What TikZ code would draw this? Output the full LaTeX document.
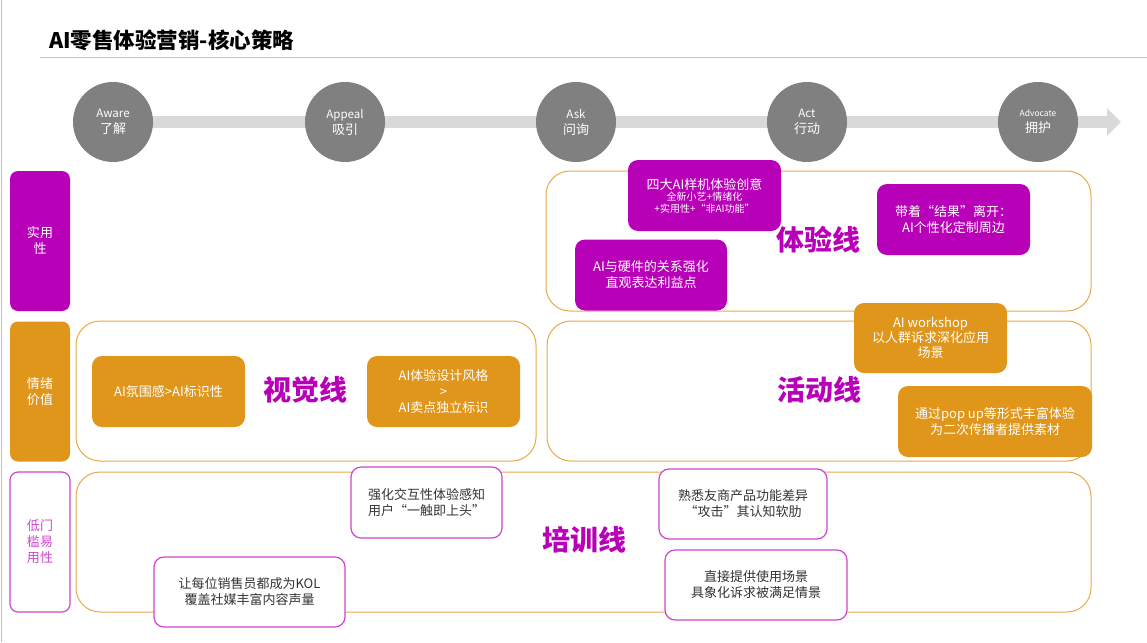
\documentclass[tikz,border=0pt]{standalone}
\usepackage{fontspec}
\setmainfont{Noto Sans CJK SC}
\usetikzlibrary{arrows.meta}
\definecolor{aipurple}{RGB}{185,0,185}
\definecolor{aiorange}{RGB}{224,150,26}
\definecolor{aiframe}{RGB}{234,168,74}
\definecolor{aipink}{RGB}{205,70,205}
\definecolor{aigray}{RGB}{128,128,128}
\definecolor{aiband}{RGB}{217,217,217}
\definecolor{airule}{RGB}{192,192,192}
\newcommand{\boxfont}{\fontsize{13}{16}\selectfont}

\begin{document}
\begin{tikzpicture}[x=1pt,y=-1pt,
  stage/.style={circle,fill=aigray,minimum size=80pt,inner sep=0pt,text=white,
    align=center,font=\fontsize{13}{16}\selectfont},
  side/.style={rounded corners=8pt,minimum width=60pt,minimum height=140pt,
    align=center,font=\boxfont},
  laneframe/.style={draw=aiframe,line width=1pt,rounded corners=24pt,minimum height=140pt},
  fillbox/.style={rounded corners=10pt,minimum width=153pt,minimum height=71pt,
    text=white,align=center,font=\boxfont},
  openbox/.style={draw=aipink,line width=1.2pt,fill=white,rounded corners=10pt,
    minimum height=70pt,text=black!80,align=center,font=\boxfont},
  lanename/.style={text=aipurple,font=\fontsize{28}{30}\selectfont\bfseries}]
  \useasboundingbox (0,0) rectangle (1147,642);
  \draw[airule] (0.7,0) -- (0.7,642);
  \node[anchor=west,inner sep=0pt,font=\fontsize{21.5}{24}\selectfont\bfseries] (title) at (49,40) {AI零售体验营销-核心策略};
  \draw[airule] (40,57) -- (1147,57);

  \coordinate (bandStart) at (113,122);
  \coordinate (bandEnd) at (1121,122);
  \draw[aiband,line width=12pt,-{Triangle[length=14pt,width=27pt]}] (bandStart) -- (bandEnd);
  \node[stage] (aware) at (113,122) {{\fontsize{11.5}{14}\selectfont Aware}\\了解};
  \node[stage] (appeal) at (345,122) {{\fontsize{11.5}{14}\selectfont Appeal}\\吸引};
  \node[stage] (ask) at (576,122) {{\fontsize{11.5}{14}\selectfont Ask}\\问询};
  \node[stage] (act) at (807,122) {{\fontsize{11.5}{14}\selectfont Act}\\行动};
  \node[stage] (advocate) at (1038,122) {{\fontsize{8.5}{12}\selectfont Advocate}\\拥护};

  \node[side,fill=aipurple,text=white] (practical) at (40,241) {实用\\性};
  \node[side,fill=aiorange,text=white] (emotion) at (40,391.5) {情绪\\价值};
  \node[side,draw=aipink,line width=1.2pt,text=aipink] (easeuse) at (40,542) {低门\\槛易\\用性};

  \node[laneframe,minimum width=545pt] (expLane) at (818.5,241) {};
  \node[laneframe,minimum width=460pt] (visLane) at (306,391) {};
  \node[laneframe,minimum width=544pt] (actLane) at (819,391) {};
  \node[laneframe,minimum width=1015pt] (trnLane) at (583.5,542) {};

  \node[lanename] (expName) at (818,240) {体验线};
  \node[lanename] (visName) at (305,390) {视觉线};
  \node[lanename] (actName) at (819,390) {活动线};
  \node[lanename] (trnName) at (584,540) {培训线};

  \node[fillbox,fill=aipurple,font=\fontsize{10}{11.5}\selectfont] (expIdea) at (704.5,195.5)
    {{\fontsize{13}{16}\selectfont 四大AI样机体验创意}\\全新小艺+情绪化\\+实用性+“非AI功能”};
  \node[fillbox,fill=aipurple,minimum width=152pt] (expHardware) at (651,275) {AI与硬件的关系强化\\直观表达利益点};
  \node[fillbox,fill=aipurple] (expLeave) at (953.5,219.5) {带着“结果”离开：\\AI个性化定制周边};

  \node[fillbox,fill=aiorange] (visMood) at (168.5,391.5) {AI氛围感>AI标识性};
  \node[fillbox,fill=aiorange] (visStyle) at (443.5,391.5) {AI体验设计风格\\>\\AI卖点独立标识};

  \node[fillbox,fill=aiorange,minimum height=70pt,font=\fontsize{13}{15}\selectfont] (actWorkshop) at (930.5,338) {AI workshop\\以人群诉求深化应用\\场景};
  \node[fillbox,fill=aiorange,minimum width=194pt] (actPopup) at (995,421.5) {通过pop up等形式丰富体验\\为二次传播者提供素材};

  \node[openbox,minimum width=151pt,minimum height=71pt] (trnTouch) at (426.5,502.5) {强化交互性体验感知\\用户“一触即上头”};
  \node[openbox,minimum width=191pt] (trnKol) at (249.5,592) {让每位销售员都成为KOL\\覆盖社媒丰富内容声量};
  \node[openbox,minimum width=168pt] (trnRival) at (743,504) {熟悉友商产品功能差异\\“攻击”其认知软肋};
  \node[openbox,minimum width=182pt] (trnScene) at (756,585) {直接提供使用场景\\具象化诉求被满足情景};
\end{tikzpicture}
\end{document}
